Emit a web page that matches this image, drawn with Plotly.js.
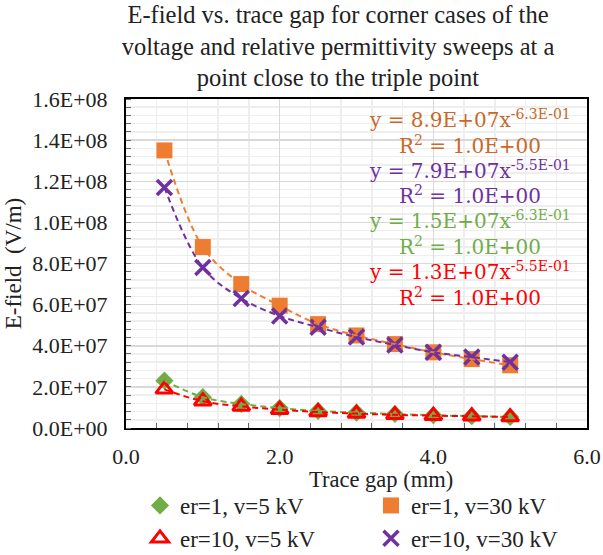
<!DOCTYPE html>
<html><head><meta charset="utf-8">
<script src="https://cdn.plot.ly/plotly-3.0.1.min.js"></script>
<style>html,body{margin:0;padding:0;background:#fff}#chart{width:603px;height:555px}</style>
</head><body><div id="chart"></div>
<script>
const gap = [0.5, 1.0, 1.5, 2.0, 2.5, 3.0, 3.5, 4.0, 4.5, 5.0];
const er1_v5 = [2.3e7, 1.5e7, 1.17e7, 9.7e6, 8.3e6, 7.5e6, 6.8e6, 6.2e6, 5.8e6, 5.4e6];
const er1_v30 = [1.35e8, 8.8e7, 7.0e7, 5.95e7, 5.05e7, 4.5e7, 4.08e7, 3.68e7, 3.35e7, 3.05e7];
const er10_v5 = [1.88e7, 1.3e7, 1.05e7, 8.9e6, 7.8e6, 7.0e6, 6.4e6, 6.0e6, 5.7e6, 5.3e6];
const er10_v30 = [1.17e8, 7.8e7, 6.3e7, 5.45e7, 4.9e7, 4.42e7, 4.04e7, 3.68e7, 3.45e7, 3.2e7];
const yTickVals = [0, 2e7, 4e7, 6e7, 8e7, 1e8, 1.2e8, 1.4e8, 1.6e8];
const yTickText = ["0.0E+00","2.0E+07","4.0E+07","6.0E+07","8.0E+07","1.0E+08","1.2E+08","1.4E+08","1.6E+08"];
const names = ["er=1, v=5 kV", "er=1, v=30 kV", "er=10, v=5 kV", "er=10, v=30 kV"];
const fitText = [
  "y = 8.9E+07x<sup>-6.3E-01</sup>", "R<sup>2</sup> = 1.0E+00",
  "y = 7.9E+07x<sup>-5.5E-01</sup>", "R<sup>2</sup> = 1.0E+00",
  "y = 1.5E+07x<sup>-6.3E-01</sup>", "R<sup>2</sup> = 1.0E+00",
  "y = 1.3E+07x<sup>-5.5E-01</sup>", "R<sup>2</sup> = 1.0E+00"
];
const xTitle = "Trace gap (mm)";

const GREEN = '#70AD47', ORANGE = '#ED7D31', RED = '#FF0000', PURPLE = '#7030A0';
const series = [er1_v5, er1_v30, er10_v5, er10_v30];
const colors = [GREEN, ORANGE, RED, PURPLE];
const markers = [
  {symbol:'diamond', size:14, color:GREEN},
  {symbol:'square', size:16, color:ORANGE},
  {symbol:'triangle-up-open', size:15, color:RED, line:{color:RED, width:3}},
  {symbol:'x-thin-open', size:15, color:PURPLE, line:{color:PURPLE, width:3.5}}
];
const traces = [];
for (let i = 0; i < 4; i++) {
  traces.push({x: gap, y: series[i], type:'scatter', mode:'markers', name:names[i], marker:markers[i], cliponaxis:false});
}
for (let i = 0; i < 4; i++) {
  traces.push({x: gap, y: series[i], type:'scatter', mode:'lines', showlegend:false, hoverinfo:'skip',
    line:{color:colors[i], dash:'6px,4px', width:2, shape:'spline', smoothing:1}});
}

const fitColors = ['#C8682A','#C8682A', PURPLE, PURPLE, GREEN, GREEN, RED, RED];
const fitY = [119, 145, 170, 195, 220, 246, 271, 297];
const annotations = fitText.map((t, i) => ({
  text: t, xref:'paper', yref:'paper', x:(470-126)/461, y:(428-fitY[i])/329,
  xanchor:'center', yanchor:'middle', showarrow:false,
  font:{family:'DejaVu Serif', size:20, color:fitColors[i]}
}));
const font = 'Liberation Serif, Times New Roman, serif';
annotations.push({text: xTitle, xref:'paper', yref:'paper', x:(381-126)/461, y:(428-480)/329,
  xanchor:'center', yanchor:'middle', showarrow:false, font:{family:font, size:22.5, color:'#222'}});

const layout = {
  width:603, height:555,
  margin:{l:126, r:16, t:99, b:127},
  paper_bgcolor:'#fff', plot_bgcolor:'#fff',
  font:{family:font, color:'#222', size:22},
  title:{text:'E-field vs. trace gap for corner cases of the<br>voltage and relative permittivity sweeps at a<br>point close to the triple point',
    x:338/603, xanchor:'center', xref:'container', y:0.959, yanchor:'top', yref:'container',
    font:{family:font, size:24.5, color:'#222'}},
  xaxis:{range:[0,6], dtick:2, tickformat:'.1f', showgrid:true, gridcolor:'#d9d9d9', gridwidth:1.5,
    zeroline:false, showline:true, linecolor:'#000', linewidth:2, mirror:true,
    ticks:'', tickfont:{size:22, family:font}, ticklabelstandoff:8,
    minor:{dtick:0.4, showgrid:true, gridcolor:'#eeeeee', ticks:'inside', ticklen:5, tickcolor:'#666'}},
  yaxis:{range:[0,1.6e8], tickvals:yTickVals, ticktext:yTickText, showgrid:true, gridcolor:'#d9d9d9', gridwidth:1.5,
    zeroline:false, showline:true, linecolor:'#000', linewidth:2, mirror:true,
    ticks:'', tickfont:{size:22, family:font}, ticklabelstandoff:12,
    minor:{dtick:4e6, showgrid:true, gridcolor:'#eeeeee', ticks:'inside', ticklen:5, tickcolor:'#666'},
    title:{text:'E-field  (V/m)', font:{size:23, family:font}, standoff:4}},
  legend:{orientation:'h', xref:'container', yref:'container', x:140/603, y:(555-484)/555, xanchor:'left', yanchor:'top',
    entrywidth:186, entrywidthmode:'pixels', font:{size:23, family:font}, bgcolor:'rgba(0,0,0,0)'},
  annotations: annotations,
  showlegend:true
};
Plotly.newPlot('chart', traces, layout, {displayModeBar:false, staticPlot:true});
</script></body></html>
